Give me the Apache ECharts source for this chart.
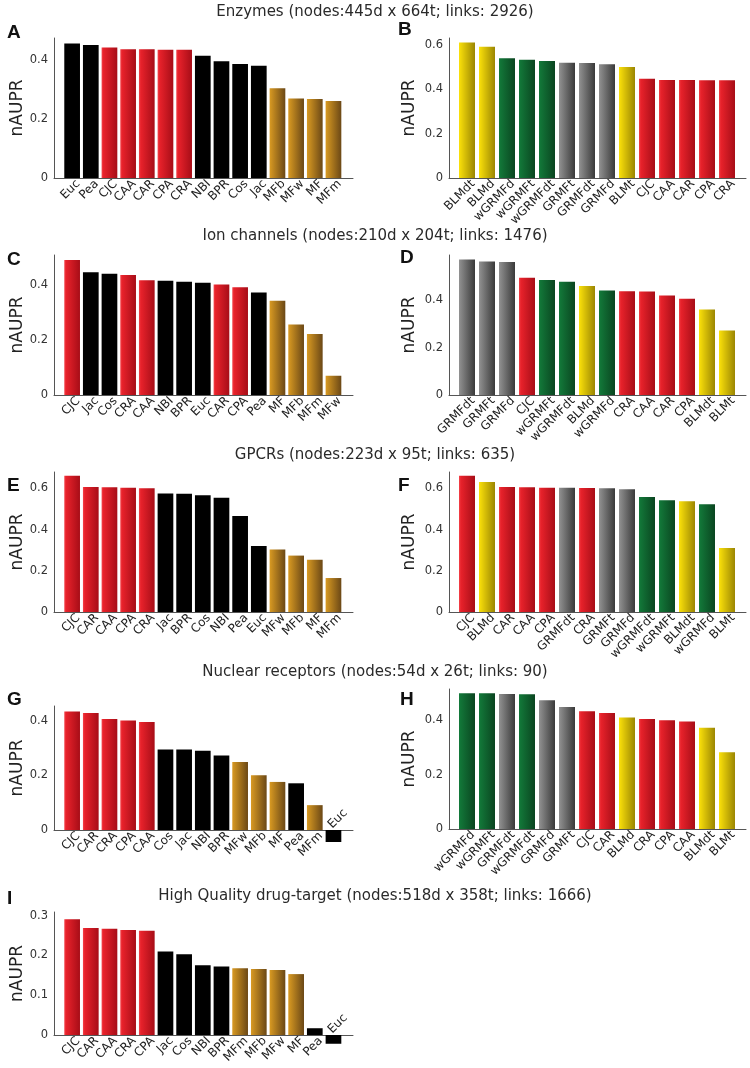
<!DOCTYPE html>
<html>
<head>
<meta charset="utf-8">
<script src="https://cdn.jsdelivr.net/npm/echarts@6/dist/echarts.min.js"></script>
<style>html,body{margin:0;padding:0;background:#fff;}#c{width:750px;height:1068px;}</style>
</head>
<body>
<div id="c"></div>
<script>
// ---------------- DATA ----------------
const datasetTitles = [
  'Enzymes (nodes:445d x 664t; links: 2926)',
  'Ion channels (nodes:210d x 204t; links: 1476)',
  'GPCRs (nodes:223d x 95t; links: 635)',
  'Nuclear receptors (nodes:54d x 26t; links: 90)',
  'High Quality drug-target (nodes:518d x 358t; links: 1666)'
];
const panelLetters = ['A','B','C','D','E','F','G','H','I'];
const yAxisName = 'nAUPR';

const catsA = ['Euc','Pea','CJC','CAA','CAR','CPA','CRA','NBI','BPR','Cos','Jac','MFb','MFw','MF','MFm'];
const valsA = [0.457,0.452,0.444,0.438,0.438,0.436,0.436,0.416,0.397,0.388,0.382,0.305,0.270,0.269,0.262];

const catsB = ['BLMdt','BLMd','wGRMFd','wGRMFt','wGRMFdt','GRMFt','GRMFdt','GRMFd','BLMt','CJC','CAA','CAR','CPA','CRA'];
const valsB = [0.612,0.592,0.541,0.534,0.528,0.520,0.519,0.514,0.501,0.448,0.442,0.442,0.441,0.441];

const catsC = ['CJC','Jac','Cos','CRA','CAA','NBI','BPR','Euc','CAR','CPA','Pea','MF','MFb','MFm','MFw'];
const valsC = [0.491,0.446,0.441,0.436,0.417,0.415,0.412,0.408,0.402,0.392,0.373,0.343,0.256,0.222,0.070];

const catsD = ['GRMFdt','GRMFt','GRMFd','CJC','wGRMFt','wGRMFdt','BLMd','wGRMFd','CRA','CAA','CAR','CPA','BLMdt','BLMt'];
const valsD = [0.573,0.565,0.562,0.496,0.486,0.479,0.461,0.442,0.439,0.438,0.421,0.407,0.362,0.273];

const catsE = ['CJC','CAR','CAA','CPA','CRA','Jac','BPR','Cos','NBI','Pea','Euc','MFw','MFb','MF','MFm'];
const valsE = [0.662,0.607,0.606,0.604,0.601,0.576,0.574,0.567,0.555,0.466,0.321,0.303,0.274,0.254,0.165];

const catsF = ['CJC','BLMd','CAR','CAA','CPA','GRMFdt','CRA','GRMFt','GRMFd','wGRMFdt','wGRMFt','BLMdt','wGRMFd','BLMt'];
const valsF = [0.662,0.632,0.607,0.606,0.604,0.604,0.602,0.601,0.596,0.559,0.543,0.538,0.523,0.311];

const catsG = ['CJC','CAR','CRA','CPA','CAA','Cos','Jac','NBI','BPR','MFw','MFb','MF','Pea','MFm','Euc'];
const valsG = [0.434,0.428,0.406,0.401,0.395,0.295,0.295,0.290,0.273,0.249,0.200,0.176,0.171,0.091,-0.044];

const catsH = ['wGRMFd','wGRMFt','GRMFdt','wGRMFdt','GRMFd','GRMFt','CJC','CAR','BLMd','CRA','CPA','CAA','BLMdt','BLMt'];
const valsH = [0.499,0.499,0.497,0.496,0.474,0.449,0.433,0.427,0.410,0.405,0.400,0.395,0.372,0.282];

const catsI = ['CJC','CAR','CAA','CRA','CPA','Jac','Cos','NBI','BPR','MFm','MFb','MFw','MF','Pea','Euc'];
const valsI = [0.291,0.269,0.267,0.264,0.262,0.210,0.203,0.175,0.172,0.168,0.166,0.163,0.153,0.017,-0.022];

// ---------------- LAYOUT / STYLE ----------------
const FONT = 'DejaVu Sans';
const cols = [
  {axisL: 54, axisR: 353, barL: 62.8, barW: 280, barWidth: 15.7, nameGap: 26},
  {axisL: 449, axisR: 746, barL: 457, barW: 280, barWidth: 16, nameGap: 31}
];
const LABEL_SHIFT = 6;
const panels = [
  {cats: catsA, vals: valsA, col: 0, top: 38,  zero: 178, max: 0.476, min: 0,     step: 0.2},
  {cats: catsB, vals: valsB, col: 1, top: 38,  zero: 178, max: 0.632, min: 0,     step: 0.2},
  {cats: catsC, vals: valsC, col: 0, top: 255, zero: 395, max: 0.509, min: 0,     step: 0.2},
  {cats: catsD, vals: valsD, col: 1, top: 255, zero: 395, max: 0.592, min: 0,     step: 0.2},
  {cats: catsE, vals: valsE, col: 0, top: 472, zero: 612, max: 0.680, min: 0,     step: 0.2},
  {cats: catsF, vals: valsF, col: 1, top: 472, zero: 612, max: 0.680, min: 0,     step: 0.2},
  {cats: catsG, vals: valsG, col: 0, top: 706, zero: 830, max: 0.454, min: -0.05, step: 0.2},
  {cats: catsH, vals: valsH, col: 1, top: 689, zero: 829, max: 0.515, min: 0,     step: 0.2},
  {cats: catsI, vals: valsI, col: 0, top: 912, zero: 1035, max: 0.309, min: -0.03, step: 0.1}
];
const letterPos = [[7,23],[398,20],[7,250],[400,248],[7,476],[398,476],[7,690],[400,690],[7,889]];
const titleTops = [5, 229, 448, 665, 889];

const G = echarts.graphic.LinearGradient;
const palettes = {
  red:    () => new G(0,0,1,0,[{offset:0,color:'#f3434a'},{offset:0.12,color:'#e8222b'},{offset:1,color:'#a70d17'}]),
  black:  () => '#000000',
  brown:  () => new G(0,0,1,0,[{offset:0,color:'#d99a22'},{offset:1,color:'#6b4816'}]),
  yellow: () => new G(0,0,1,0,[{offset:0,color:'#fbe10a'},{offset:1,color:'#9b8602'}]),
  green:  () => new G(0,0,1,0,[{offset:0,color:'#137a3a'},{offset:1,color:'#0a4520'}]),
  gray:   () => new G(0,0,1,0,[{offset:0,color:'#929292'},{offset:1,color:'#3a3a3a'}])
};
function groupOf(name) {
  if (name.startsWith('wGRMF')) return 'green';
  if (name.startsWith('GRMF')) return 'gray';
  if (name.startsWith('BLM')) return 'yellow';
  if (name.startsWith('MF')) return 'brown';
  if (['CJC','CAA','CAR','CPA','CRA'].includes(name)) return 'red';
  return 'black';
}

const grid = [], xAxis = [], yAxis = [], series = [], title = [];

datasetTitles.forEach((t, i) => {
  title.push({text: t, left: 'center', top: titleTops[i], padding: 0,
    textStyle: {fontFamily: FONT, fontSize: 15, fontWeight: 'normal', color: '#2a2a2a'}});
});
panelLetters.forEach((L, i) => {
  title.push({text: L, left: letterPos[i][0], top: letterPos[i][1], padding: 0,
    textStyle: {fontFamily: 'Liberation Sans', fontSize: 19, fontWeight: 'bold', color: '#111'}});
});

function fmtTick(v, step) {
  const k = v / step;
  if (Math.abs(k - Math.round(k)) > 1e-6) return '';
  const r = Math.round(k) * step;
  return String(Math.round(r * 10) / 10);
}

panels.forEach((p, i) => {
  const c = cols[p.col];
  const ppu = (p.zero - p.top) / p.max;
  const gi = grid.length;
  // 1) axis frame grid
  grid.push({left: c.axisL, top: p.top, width: c.axisR - c.axisL, height: p.zero - p.top, outerBoundsMode: 'none', containLabel: false});
  xAxis.push({gridIndex: gi, type: 'value', min: 0, max: 1, axisLine: {show: true, onZero: false, lineStyle: {color: '#555', width: 1}},
    axisTick: {show: false}, axisLabel: {show: false}, splitLine: {show: false}});
  yAxis.push({gridIndex: gi, type: 'value', min: 0, max: p.max, interval: p.step,
    name: yAxisName, nameLocation: 'middle', nameRotate: 90, nameGap: c.nameGap,
    nameTextStyle: {fontFamily: FONT, fontSize: 17, color: '#222'},
    axisLine: {show: true, lineStyle: {color: '#555', width: 1}}, axisTick: {show: false}, splitLine: {show: false},
    axisLabel: {margin: 6, fontFamily: FONT, fontSize: 11.5, color: '#333', formatter: v => fmtTick(v, p.step)}});
  // 2) bar grid
  const barBottom = p.zero + (-p.min) * ppu;
  grid.push({left: c.barL, top: p.top, width: c.barW, height: barBottom - p.top, outerBoundsMode: 'none', containLabel: false});
  xAxis.push({gridIndex: gi + 1, type: 'category', data: p.cats, show: false});
  yAxis.push({gridIndex: gi + 1, type: 'value', min: p.min, max: p.max, show: false, splitLine: {show: false}});
  series.push({type: 'bar', xAxisIndex: gi + 1, yAxisIndex: gi + 1, barWidth: c.barWidth, silent: true,
    data: p.vals.map((v, j) => {
      const item = {value: v, itemStyle: {color: palettes[groupOf(p.cats[j])]()}};
      if (v < 0) item.label = {show: true, position: 'top', rotate: 45, align: 'left', verticalAlign: 'middle',
        distance: 7, offset: [-5, 0], formatter: p.cats[j], fontFamily: FONT, fontSize: 12, color: '#222'};
      return item;
    })});
  // 3) category label grid (labels hang from the zero line, shifted like the reference)
  grid.push({left: c.barL + LABEL_SHIFT, top: p.top, width: c.barW, height: p.zero - p.top, outerBoundsMode: 'none', containLabel: false});
  xAxis.push({gridIndex: gi + 2, type: 'category', data: p.cats,
    axisLine: {show: false}, axisTick: {show: false}, splitLine: {show: false},
    axisLabel: {interval: 0, rotate: 45, margin: 4, fontFamily: FONT, fontSize: 12, color: '#222',
      formatter: (v, idx) => p.vals[idx] < 0 ? '' : v}});
  yAxis.push({gridIndex: gi + 2, type: 'value', min: 0, max: 1, show: false, splitLine: {show: false}});
});

const chart = echarts.init(document.getElementById('c'), null, {renderer: 'canvas'});
chart.setOption({animation: false, backgroundColor: '#fff', title, grid, xAxis, yAxis, series});
</script>
</body>
</html>
